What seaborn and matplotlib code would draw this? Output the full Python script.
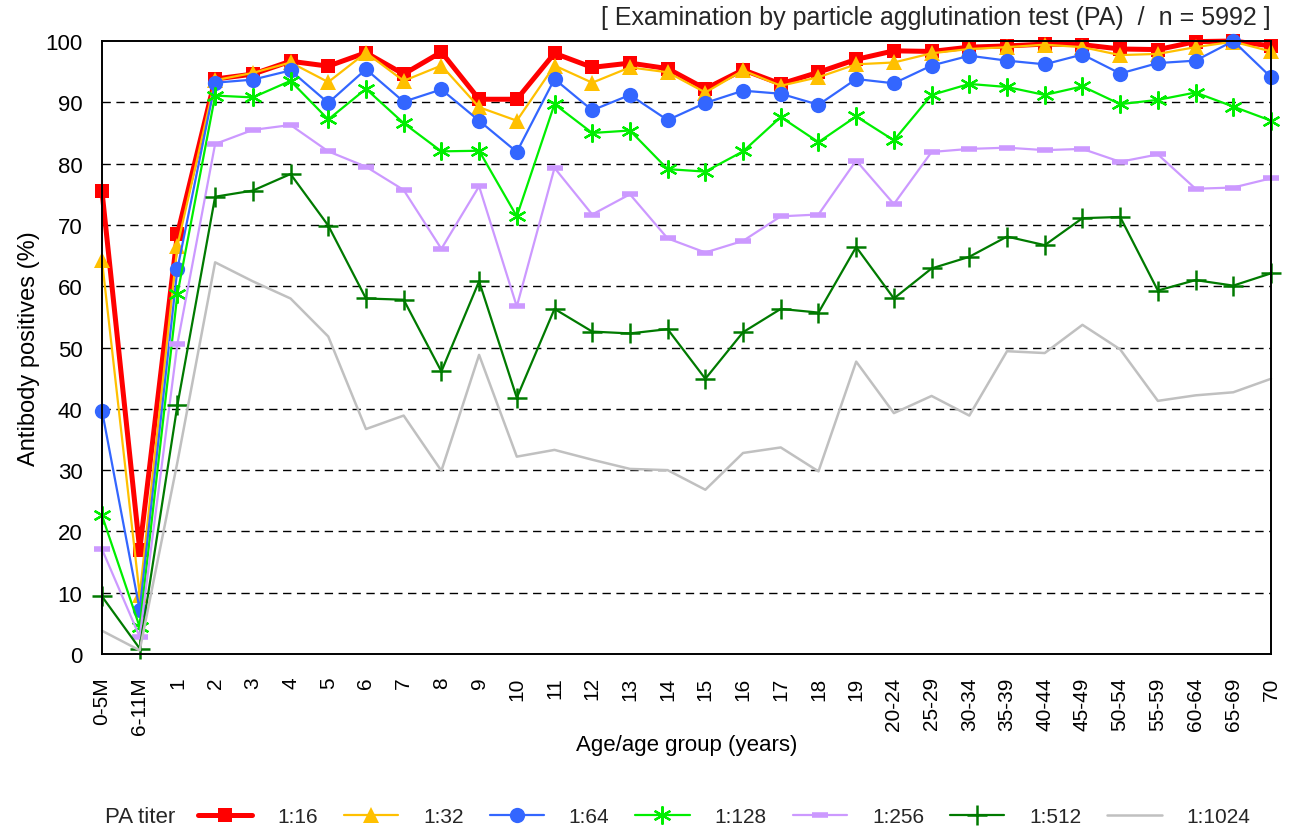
import matplotlib
matplotlib.use("Agg")
import matplotlib.pyplot as plt
import seaborn as sns
import pandas as pd

ages = ["0-5M", "6-11M"] + [str(a) for a in range(1, 20)] + [
    "20-24", "25-29", "30-34", "35-39", "40-44", "45-49",
    "50-54", "55-59", "60-64", "65-69", "70",
]

titers = ["1:16", "1:32", "1:64", "1:128", "1:256", "1:512", "1:1024"]

pa_16 = [75.5, 17.0, 68.5, 93.8, 94.6, 96.7, 95.9, 98.1, 94.6, 98.2, 90.5,
         90.5, 98.0, 95.7, 96.4, 95.5, 92.2, 95.3, 93.0, 94.9, 97.0,
         98.4, 98.3, 99.0, 99.2, 99.5, 99.4, 98.7, 98.6, 99.9, 100.0, 99.2]
pa_32 = [64.2, 9.6, 66.6, 93.6, 94.8, 96.5, 93.3, 98.1, 93.5, 96.0, 89.2,
         87.0, 96.0, 93.2, 95.7, 94.9, 91.6, 95.2, 92.7, 94.1, 96.2,
         96.5, 98.0, 98.7, 99.0, 99.4, 99.0, 97.7, 97.9, 99.0, 99.9, 98.3]
pa_64 = [39.7, 7.2, 62.8, 93.2, 93.7, 95.2, 89.9, 95.4, 90.1, 92.1, 87.0,
         81.9, 93.8, 88.7, 91.2, 87.1, 89.9, 91.9, 91.4, 89.6, 93.8,
         93.1, 96.0, 97.6, 96.8, 96.2, 97.8, 94.7, 96.4, 96.8, 100.0, 94.1]
pa_128 = [22.6, 4.4, 58.7, 91.1, 90.8, 93.5, 87.2, 92.2, 86.6, 82.0, 82.1,
          71.4, 89.7, 85.0, 85.4, 79.1, 78.7, 82.0, 87.6, 83.5, 87.7,
          83.8, 91.2, 93.0, 92.5, 91.2, 92.6, 89.7, 90.4, 91.6, 89.3, 87.0]
pa_256 = [17.1, 2.8, 50.6, 83.2, 85.5, 86.3, 82.0, 79.5, 75.7, 66.1, 76.3,
          56.7, 79.3, 71.7, 75.0, 67.8, 65.5, 67.4, 71.4, 71.7, 80.5,
          73.4, 81.9, 82.4, 82.6, 82.2, 82.4, 80.3, 81.5, 75.9, 76.1, 77.6]
pa_512 = [9.4, 0.9, 40.6, 74.6, 75.6, 78.3, 69.9, 58.0, 57.8, 46.1, 60.8,
          41.8, 56.3, 52.6, 52.3, 53.0, 44.9, 52.5, 56.3, 55.7, 66.4,
          58.0, 62.9, 64.8, 68.1, 66.7, 71.1, 71.3, 59.3, 61.0, 60.1, 62.1]
pa_1024 = [3.8, 0.6, 31.3, 63.9, 60.8, 58.0, 51.8, 36.7, 38.9, 29.9, 48.8,
           32.2, 33.3, 31.7, 30.2, 30.0, 26.8, 32.8, 33.7, 29.8, 47.7,
           39.3, 42.1, 38.9, 49.4, 49.1, 53.7, 49.7, 41.3, 42.2, 42.7, 44.9]

series = [pa_16, pa_32, pa_64, pa_128, pa_256, pa_512, pa_1024]

df = pd.DataFrame({
    "Age": ages * len(titers),
    "Positive": sum(series, []),
    "Titer": [t for t in titers for _ in ages],
})

# style of each titer line
styles = {
    "1:16": dict(color="#FF0000", marker="s", ms=10, lw=3.6, mew=0),
    "1:32": dict(color="#FFC000", marker="^", ms=11, lw=1.6, mew=0),
    "1:64": dict(color="#3366FF", marker="o", ms=11, lw=1.6, mew=0),
    "1:128": dict(color="#00EE00", marker=(6, 2, 0), ms=13, lw=1.6, mew=1.6),
    "1:256": dict(color="#CC99FF", marker="_", ms=11, lw=1.6, mew=4),
    "1:512": dict(color="#007A00", marker="+", ms=14, lw=1.6, mew=1.8),
    "1:1024": dict(color="#C0C0C0", marker=None, ms=0, lw=1.8, mew=0),
}

sns.set_theme(style="white")
plt.rcParams["font.family"] = ["Liberation Sans", "DejaVu Sans"]

fig = plt.figure(figsize=(12.91, 8.37), dpi=100)
ax = fig.add_axes([0.079, 0.2174, 0.9055, 0.7324])

for t in titers:
    st = styles[t]
    sub = df[df["Titer"] == t]
    sns.lineplot(
        data=sub, x="Age", y="Positive", ax=ax, sort=False,
        color=st["color"], linewidth=st["lw"], marker=st["marker"],
        markersize=st["ms"], markeredgewidth=st["mew"],
        markeredgecolor=st["color"], label=t,
    )
for line in ax.lines:
    line.set_clip_on(False)

ax.set_xlim(0, len(ages) - 1)
ax.set_ylim(0, 100)
ax.set_yticks(range(0, 101, 10))
for v in range(10, 100, 10):
    ax.axhline(v, color="black", lw=1, ls=(0, (6, 4)), zorder=0)

ax.tick_params(axis="y", labelsize=16, length=0, pad=14, colors="black")
ax.tick_params(axis="x", labelsize=15, length=0, pad=16, rotation=90,
               colors="black")
for s in ax.spines.values():
    s.set_color("black")
    s.set_linewidth(1.4)

ax.set_ylabel("Antibody positives (%)", fontsize=17, color="black", labelpad=4)
ax.set_xlabel("Age/age group (years)", fontsize=16, color="black")
ax.xaxis.set_label_coords(0.5, -0.13)

fig.text(0.984, 0.978,
         "[ Examination by particle agglutination test (PA)  /  n = 5992 ]",
         ha="right", va="center", fontsize=18)

handles, labels = ax.get_legend_handles_labels()
ax.get_legend().remove()
fig.text(0.081, 0.023, "PA titer", ha="left", va="center", fontsize=16)
fig.legend(handles, labels, loc="center left", bbox_to_anchor=(0.1534, 0.023),
           ncol=7, frameon=False, fontsize=15, handlelength=2.6,
           handletextpad=1.2, columnspacing=1.25, numpoints=1, borderpad=0,
           borderaxespad=0)

fig.savefig("out.png", dpi=100)
